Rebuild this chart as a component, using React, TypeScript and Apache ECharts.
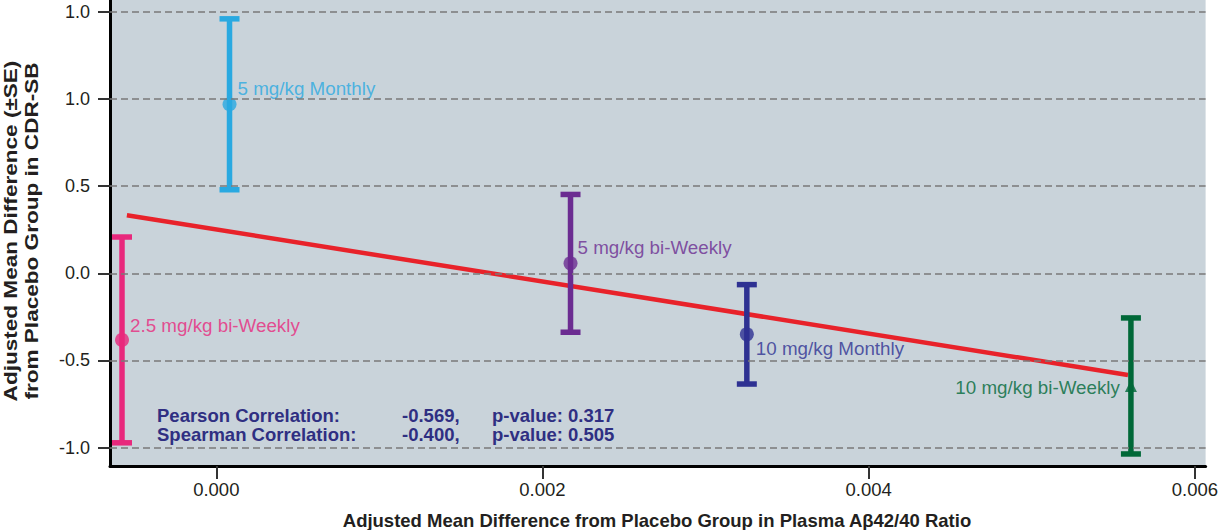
import React, { useEffect, useRef } from "react";
import * as echarts from "echarts";

// ---- data ----
const groups = ["2.5 mg/kg bi-Weekly", "5 mg/kg Monthly", "5 mg/kg bi-Weekly", "10 mg/kg Monthly", "10 mg/kg bi-Weekly"];
const plasmaDiff = [-0.000578, 0.0000812, 0.002172, 0.003253, 0.005608];
const cdrDiff = [-0.382, 0.969, 0.057, -0.35, -0.646];
const cdrSE = [0.59, 0.49, 0.395, 0.285, 0.39];
const regX = [-0.000548, 0.00559];
const regY = [0.333, -0.583];
const xTickValues = [0, 0.002, 0.004, 0.006];
const yTickValues = [-1, -0.5, 0, 0.5, 1, 1.5];
const yTickLabels = ["-1.0", "-0.5", "0.0", "0.5", "1.0", "1.0"];
const corrRows = [
  ["Pearson Correlation:", "-0.569,", "p-value: 0.317"],
  ["Spearman Correlation:", "-0.400,", "p-value: 0.505"],
];
const xTitle = "Adjusted Mean Difference from Placebo Group in Plasma A\u03b242/40 Ratio";
const yTitle = ["Adjusted Mean Difference (\u00b1SE)", "from Placebo Group in CDR-SB"];

// ---- styles ----
const colors = ["#E8287C", "#29A9E1", "#6B2C91", "#2E3192", "#006838"];
const symbols = ["circle", "circle", "circle", "circle", "triangle"];
const labelPos = ["right", "right", "right", "right", "left"];
const labelDist = [1, 1, 0, 2, 5];
const labelOffY = [-14, -16, -16, 14, 2];
const FONT = "'Liberation Sans', Arial, Helvetica, sans-serif";
const TEXT = "#231F20";

export default function App() {
  const ref = useRef<HTMLDivElement>(null);
  useEffect(() => {
    if (!ref.current) return;
    const chart = echarts.init(ref.current, null, { renderer: "svg" });
    const scatterData = groups.map((g, i) => ({
      name: g,
      value: [plasmaDiff[i], cdrDiff[i]],
      symbol: symbols[i],
      symbolSize: symbols[i] === "triangle" ? 12 : 14,
      itemStyle: { color: colors[i] },
      label: {
        show: true,
        formatter: g,
        position: labelPos[i],
        distance: labelDist[i],
        offset: [0, labelOffY[i]],
        color: colors[i],
        fontSize: 18.8,
        fontFamily: FONT,
      },
    }));
    const barData = groups.map((g, i) => [plasmaDiff[i], cdrDiff[i] - cdrSE[i], cdrDiff[i] + cdrSE[i]]);
    const option: any = {
      animation: false,
      backgroundColor: "#ffffff",
      textStyle: { fontFamily: FONT },
      grid: {
        left: 110, right: 11, top: 0, bottom: 64,
        show: true, backgroundColor: "#C9D3DA", borderWidth: 0,
      },
      xAxis: {
        type: "value",
        min: -0.0006516,
        max: 0.006066,
        splitLine: { show: false },
        axisLine: { show: true, onZero: false, lineStyle: { color: "#000", width: 3 } },
        axisTick: { show: true, length: 13, customValues: xTickValues, lineStyle: { color: "#333", width: 2 } },
        axisLabel: {
          customValues: xTickValues,
          formatter: (v: number) => v.toFixed(3),
          margin: 14, fontSize: 18.5, color: TEXT, fontFamily: FONT,
        },
      },
      yAxis: {
        type: "value",
        min: -1.105,
        max: 1.567,
        splitLine: { show: false },
        axisLine: { show: true, onZero: false, lineStyle: { color: "#000", width: 3 } },
        axisTick: { show: true, length: 12, customValues: yTickValues, lineStyle: { color: "#333", width: 2 } },
        axisLabel: {
          customValues: yTickValues,
          formatter: (v: number) => {
            const idx = yTickValues.findIndex((t) => Math.abs(t - v) < 1e-9);
            return idx >= 0 ? yTickLabels[idx] : "";
          },
          margin: 20, fontSize: 18, color: TEXT, fontFamily: FONT,
        },
      },
      series: [
        {
          type: "line",
          data: [],
          silent: true,
          z: 1,
          markLine: {
            silent: true,
            symbol: ["none", "none"],
            label: { show: false },
            lineStyle: { color: "#7A7A7A", width: 1.5, type: [7, 4] },
            data: yTickValues.map((v) => ({ yAxis: v })),
          },
        },
        {
          type: "line",
          data: regX.map((x, i) => [x, regY[i]]),
          symbol: "none",
          lineStyle: { color: "#E8222A", width: 4.5 },
          z: 2,
        },
        {
          type: "custom",
          z: 3,
          data: barData,
          renderItem: (params: any, api: any) => {
            const x = api.value(0);
            const lo = api.value(1);
            const hi = api.value(2);
            const top = api.coord([x, hi]);
            const bot = api.coord([x, lo]);
            const c = colors[params.dataIndex];
            const half = 10;
            const st = { stroke: c, lineWidth: 5.5 };
            return {
              type: "group",
              children: [
                { type: "line", shape: { x1: top[0], y1: top[1], x2: bot[0], y2: bot[1] }, style: st },
                { type: "line", shape: { x1: top[0] - half, y1: top[1], x2: top[0] + half, y2: top[1] }, style: st },
                { type: "line", shape: { x1: bot[0] - half, y1: bot[1], x2: bot[0] + half, y2: bot[1] }, style: st },
              ],
            };
          },
        },
        {
          type: "scatter",
          z: 4,
          data: scatterData,
        },
      ],
      graphic: [
        {
          type: "text", x: 657, y: 520, silent: true,
          style: { text: xTitle, fontSize: 18.5, fontWeight: "bold", fontFamily: FONT, fill: TEXT, align: "center", verticalAlign: "middle" },
        },
        {
          type: "text", x: 10, y: 231, rotation: Math.PI / 2, scaleX: 1.22, silent: true,
          style: { text: yTitle[0], fontSize: 18.5, fontWeight: "bold", fontFamily: FONT, fill: TEXT, align: "center", verticalAlign: "middle" },
        },
        {
          type: "text", x: 31, y: 231, rotation: Math.PI / 2, scaleX: 1.22, silent: true,
          style: { text: yTitle[1], fontSize: 18.5, fontWeight: "bold", fontFamily: FONT, fill: TEXT, align: "center", verticalAlign: "middle" },
        },
        ...corrRows.flatMap((row, r) =>
          row.map((t, c) => ({
            type: "text", x: [157, 402, 492][c], y: 415 + r * 19.5, silent: true,
            style: { text: t, fontSize: 18.5, fontWeight: "bold", fontFamily: FONT, fill: "#2F2F82", align: "left", verticalAlign: "middle" },
          }))
        ),
      ],
    };
    chart.setOption(option);
    return () => chart.dispose();
  }, []);
  return <div ref={ref} style={{ position: "fixed", left: 0, top: 0, width: 1221, height: 530 }} />;
}
